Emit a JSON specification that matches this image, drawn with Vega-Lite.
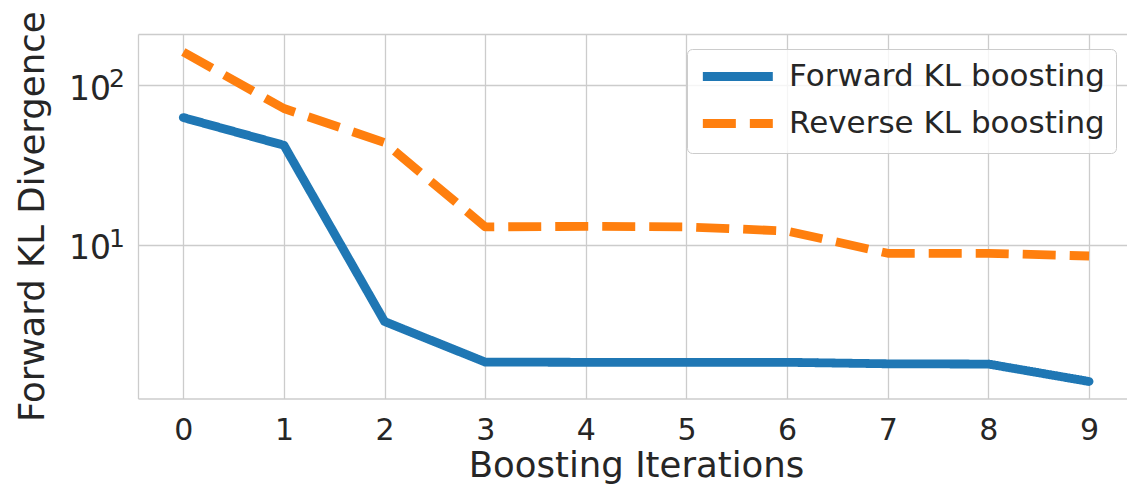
{
  "$schema": "https://vega.github.io/schema/vega-lite/v6.json",
  "width": 989,
  "height": 364.5,
  "autosize": {"type": "none"},
  "padding": {"left": 138, "top": 34, "right": 0, "bottom": 93.5},
  "background": "white",
  "config": {
    "font": "DejaVu Sans",
    "view": {"stroke": null},
    "axis": {
      "gridColor": "#cccccc",
      "gridWidth": 1.3,
      "domainColor": "#cccccc",
      "domainWidth": 1.3,
      "labelColor": "#262626",
      "titleColor": "#262626",
      "titleFontWeight": "normal",
      "ticks": false,
      "tickSize": 0
    },
    "legend": {"labelColor": "#262626"}
  },
  "data": {
    "values": [
      {"iter": 0, "kl": 62.5, "method": "Forward KL boosting"},
      {"iter": 1, "kl": 41.9, "method": "Forward KL boosting"},
      {"iter": 2, "kl": 3.29, "method": "Forward KL boosting"},
      {"iter": 3, "kl": 1.832, "method": "Forward KL boosting"},
      {"iter": 4, "kl": 1.826, "method": "Forward KL boosting"},
      {"iter": 5, "kl": 1.826, "method": "Forward KL boosting"},
      {"iter": 6, "kl": 1.826, "method": "Forward KL boosting"},
      {"iter": 7, "kl": 1.787, "method": "Forward KL boosting"},
      {"iter": 8, "kl": 1.78, "method": "Forward KL boosting"},
      {"iter": 9, "kl": 1.384, "method": "Forward KL boosting"},
      {"iter": 0, "kl": 161, "method": "Reverse KL boosting"},
      {"iter": 1, "kl": 71.2, "method": "Reverse KL boosting"},
      {"iter": 2, "kl": 43.6, "method": "Reverse KL boosting"},
      {"iter": 3, "kl": 12.9, "method": "Reverse KL boosting"},
      {"iter": 4, "kl": 13.0, "method": "Reverse KL boosting"},
      {"iter": 5, "kl": 12.9, "method": "Reverse KL boosting"},
      {"iter": 6, "kl": 12.15, "method": "Reverse KL boosting"},
      {"iter": 7, "kl": 8.81, "method": "Reverse KL boosting"},
      {"iter": 8, "kl": 8.81, "method": "Reverse KL boosting"},
      {"iter": 9, "kl": 8.47, "method": "Reverse KL boosting"}
    ]
  },
  "layer": [
    {
      "transform": [{"filter": "datum.method == 'Forward KL boosting'"}],
      "mark": {"type": "line", "strokeWidth": 8.8, "strokeCap": "round", "strokeJoin": "round"},
      "encoding": {
        "x": {
          "field": "iter", "type": "quantitative",
          "scale": {"domain": [-0.45, 9.377], "nice": false, "zero": false},
          "axis": {
            "values": [0, 1, 2, 3, 4, 5, 6, 7, 8, 9],
            "title": "Boosting Iterations",
            "titleFontSize": 35.5,
            "titleX": 498,
            "titleY": 77.5,
            "titleBaseline": "alphabetic",
            "titleAlign": "center",
            "labelFontSize": 30,
            "labelBaseline": "alphabetic",
            "labelPadding": 40.5,
            "labelFlush": false,
            "grid": true,
            "domain": true
          }
        },
        "y": {
          "field": "kl", "type": "quantitative",
          "scale": {"type": "log", "domain": [1.083, 208.8], "nice": false},
          "axis": {
            "values": [10, 100],
            "labelExpr": "'10'",
            "labelFontSize": 33,
            "labelBaseline": "alphabetic",
            "labelOffset": 14,
            "labelPadding": 27.5,
            "title": "Forward KL Divergence",
            "titleFontSize": 35.5,
            "titleX": -95,
            "titleY": 182.25,
            "titleAngle": -90,
            "titleBaseline": "alphabetic",
            "titleAlign": "center",
            "grid": true,
            "domain": true
          }
        },
        "color": {
          "field": "method", "type": "nominal",
          "scale": {"domain": ["Forward KL boosting", "Reverse KL boosting"], "range": ["#1f77b4", "#ff7f0e"]},
          "legend": {
            "orient": "none",
            "legendX": 549,
            "legendY": 15,
            "title": null,
            "labelFontSize": 31,
            "labelLimit": 0,
            "symbolType": "M-1,0H5",
            "symbolSize": 544,
            "symbolStrokeWidth": 8.8,
            "padding": 11,
            "rowPadding": 10,
            "labelOffset": 58,
            "fillColor": "rgba(255,255,255,0.8)",
            "strokeColor": "#cccccc",
            "cornerRadius": 5
          }
        },
        "strokeDash": {
          "field": "method", "type": "nominal",
          "scale": {"domain": ["Forward KL boosting", "Reverse KL boosting"], "range": [[1, 0], [33, 14]]}
        }
      }
    },
    {
      "transform": [{"filter": "datum.method == 'Reverse KL boosting'"}],
      "mark": {"type": "line", "strokeWidth": 8.8, "strokeCap": "butt", "strokeJoin": "round"},
      "encoding": {
        "x": {"field": "iter", "type": "quantitative", "scale": {"domain": [-0.45, 9.377], "nice": false, "zero": false}, "axis": null},
        "y": {"field": "kl", "type": "quantitative", "scale": {"type": "log", "domain": [1.083, 208.8], "nice": false}, "axis": null},
        "color": {"field": "method", "type": "nominal", "scale": {"domain": ["Forward KL boosting", "Reverse KL boosting"], "range": ["#1f77b4", "#ff7f0e"]}},
        "strokeDash": {"field": "method", "type": "nominal", "scale": {"domain": ["Forward KL boosting", "Reverse KL boosting"], "range": [[1, 0], [33, 14]]}}
      }
    },
    {
      "mark": {"type": "point", "opacity": 0},
      "encoding": {
        "x": {
          "field": "iter", "type": "quantitative",
          "scale": {"domain": [-0.45, 9.377], "nice": false, "zero": false},
          "axis": {"orient": "top", "labels": false, "grid": false, "domain": true, "title": null}
        },
        "y": {
          "field": "kl", "type": "quantitative",
          "scale": {"type": "log", "domain": [1.083, 208.8], "nice": false},
          "axis": {
            "orient": "right",
            "values": [10, 100],
            "labelExpr": "datum.value == 100 ? '2' : '1'",
            "labelFontSize": 25,
            "labelBaseline": "alphabetic",
            "labelAlign": "left",
            "labelOffset": 1.7,
            "labelPadding": 0,
            "offset": -1018.5,
            "grid": false,
            "domain": false,
            "title": null
          }
        }
      }
    }
  ],
  "resolve": {"axis": {"x": "independent", "y": "independent"}}
}
